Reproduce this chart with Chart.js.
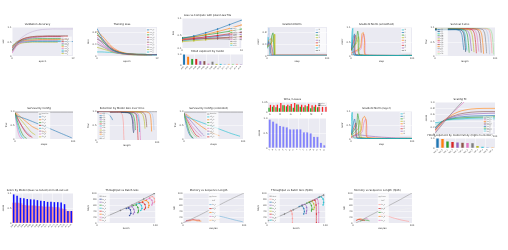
<!DOCTYPE html>
<html>
<head>
<meta charset="utf-8">
<script src="https://cdn.jsdelivr.net/npm/chart.js@4.4.0/dist/chart.umd.min.js"></script>
<style>
html, body { margin: 0; padding: 0; background: #fff; }
#page { position: relative; width: 508px; height: 250px; overflow: hidden; }
canvas { position: absolute; }
</style>
</head>
<body>
<div id="page"></div>
<script>
// ---- data (approximate) ----
const c1X = [0, 1, 2, 3, 4, 5, 6, 7, 8, 9, 10, 11, 12];
const c1Names = ['run_a', 'run_b', 'run_c', 'run_d', 'run_e', 'run_f', 'run_g', 'run_h', 'run_i', 'run_j'];
const c1Y = [
    [0.25, 0.5, 0.68, 0.8, 0.88, 0.93, 0.96, 0.97, 0.98, 0.98, 0.98, 0.98, 0.98],
    [0.2, 0.45, 0.6, 0.67, 0.7, 0.72, 0.72, 0.73, 0.73, 0.73, 0.73, 0.73, null],
    [0.3, 0.5, 0.61, 0.66, 0.69, 0.7, 0.71, 0.71, 0.71, 0.71, 0.71, 0.71, null],
    [0.15, 0.42, 0.55, 0.62, 0.66, 0.68, 0.69, 0.7, 0.7, 0.7, 0.7, null, null],
    [0.35, 0.52, 0.58, 0.61, 0.62, 0.63, 0.63, 0.63, 0.63, 0.63, 0.63, null, null],
    [0.28, 0.5, 0.55, 0.57, 0.58, 0.59, 0.6, 0.6, 0.6, 0.6, 0.6, 0.6, null],
    [0.1, 0.38, 0.5, 0.54, 0.56, 0.57, 0.57, 0.57, 0.57, 0.57, null, null, null],
    [0.22, 0.48, 0.53, 0.54, 0.55, 0.55, 0.55, 0.55, 0.55, 0.55, 0.55, null, null],
    [0.3, 0.47, 0.5, 0.51, 0.52, 0.52, 0.52, 0.52, 0.52, 0.52, 0.52, 0.52, 0.52],
    [0.18, 0.4, 0.47, 0.49, 0.5, 0.5, 0.5, 0.5, 0.5, 0.5, null, null, null]
];

const c2X = [0, 1, 2, 3, 4, 5, 6, 7, 8, 9, 10, 11, 12];
const c2Names = ['run_a', 'run_b', 'run_c', 'run_d', 'run_e', 'run_f', 'run_g', 'run_h', 'run_i', 'run_j'];
const c2Y = [
    [0.95, 0.62, 0.38, 0.22, 0.14, 0.1, 0.08, 0.07, 0.06, 0.06, 0.05, 0.05, 0.05],
    [0.85, 0.7, 0.5, 0.32, 0.2, 0.13, 0.09, 0.07, 0.06, 0.05, 0.05, 0.05, null],
    [0.8, 0.55, 0.35, 0.22, 0.15, 0.11, 0.08, 0.07, 0.06, 0.06, 0.06, null, null],
    [0.72, 0.6, 0.42, 0.27, 0.17, 0.11, 0.08, 0.06, 0.05, 0.05, 0.05, 0.05, 0.05],
    [0.65, 0.45, 0.3, 0.2, 0.13, 0.09, 0.07, 0.06, 0.05, 0.05, 0.05, null, null],
    [0.58, 0.5, 0.36, 0.24, 0.15, 0.1, 0.07, 0.06, 0.05, 0.04, 0.04, 0.04, null],
    [0.5, 0.38, 0.27, 0.18, 0.12, 0.08, 0.06, 0.05, 0.05, 0.04, null, null, null],
    [0.42, 0.33, 0.24, 0.16, 0.11, 0.08, 0.06, 0.05, 0.04, 0.04, 0.04, 0.04, 0.04],
    [0.3, 0.25, 0.2, 0.14, 0.1, 0.07, 0.05, 0.04, 0.04, 0.04, 0.04, null, null],
    [0.14, 0.14, 0.13, 0.12, 0.1, 0.08, 0.06, 0.05, 0.04, 0.04, 0.03, 0.03, 0.03]
];

const c3X = [0, 2, 4, 6, 8, 10];
const c3Names = ['m01', 'm02', 'm03', 'm04', 'm05', 'm06', 'm07', 'm08', 'm09', 'm10'];
const c3Y = [
    [0.4, 0.48, 0.58, 0.7, 0.84, 0.98],
    [0.38, 0.45, 0.53, 0.62, 0.72, 0.83],
    [0.42, 0.46, 0.51, 0.57, 0.63, 0.7],
    [0.36, 0.4, 0.45, 0.5, 0.55, 0.6],
    [0.4, 0.42, 0.45, 0.48, 0.5, 0.53],
    [0.35, 0.38, 0.4, 0.42, 0.44, 0.46],
    [0.38, 0.39, 0.4, 0.41, 0.42, 0.42],
    [0.42, 0.41, 0.4, 0.39, 0.38, 0.37],
    [0.3, 0.33, 0.36, 0.4, 0.43, 0.47],
    [0.33, 0.36, 0.41, 0.47, 0.53, 0.6]
];
const c3BarLabels = ['m01', 'm02', 'm03', 'm04', 'm05', 'm06', 'm07', 'm08', 'm09', 'm10', 'm11', 'm12', 'm13', 'm14', 'm15'];
const c3Bars = [0.95, 0.75, 0.55, 0.55, 0.35, 0.35, 0.12, 0.3, 0.1, 0.1, 0.1, 0.1, 0.1, 0.1, 0.08];

const c4Names = ['l0', 'l1', 'l2', 'l3', 'l4', 'l5', 'l6', 'l7', 'l8'];
const c4X = [
    [0, 2, 3, 4, 5, 6, 100], [0, 3, 5, 7, 100], [0, 6, 8, 10, 12, 100], [0, 9, 12, 13, 100],
    [0, 5, 8, 11, 100], [0, 4, 6, 100], [0, 3, 7, 9, 100], [0, 2, 5, 100], [0, 100]
];
const c4Y = [
    [0.3, 0.75, 0.97, 0.6, 0.1, 0.02, 0.02], [0.35, 0.5, 0.4, 0.02, 0.01], [0.3, 0.4, 0.7, 0.8, 0.02, 0.02],
    [0.3, 0.5, 0.75, 0.02, 0.02], [0.4, 0.45, 0.3, 0.02, 0.03], [0.33, 0.45, 0.03, 0.03],
    [0.3, 0.55, 0.6, 0.02, 0.02], [0.25, 0.65, 0.02, 0.02], [0.02, 0.02]
];

const c5Names = ['l0', 'l1', 'l2', 'l3', 'l4', 'l5', 'l6', 'l7', 'l8'];
const c5X = [
    [0, 2, 3, 5, 100], [0, 4, 6, 8, 100], [0, 8, 11, 13, 15, 100], [0, 10, 12, 14, 100],
    [0, 15, 18, 20, 22, 24, 100], [0, 16, 19, 21, 23, 25, 100], [0, 5, 7, 9, 100], [0, 3, 6, 100], [0, 12, 100]
];
const c5Y = [
    [0.3, 0.9, 1.0, 0.03, 0.02], [0.25, 0.7, 0.8, 0.03, 0.02], [0.2, 0.5, 0.9, 0.6, 0.03, 0.02],
    [0.2, 0.5, 0.7, 0.03, 0.02], [0.1, 0.3, 0.8, 0.85, 0.6, 0.03, 0.02], [0.1, 0.25, 0.7, 0.8, 0.5, 0.03, 0.02],
    [0.2, 0.6, 0.75, 0.03, 0.02], [0.15, 0.5, 0.03, 0.02], [0.05, 0.05, 0.02]
];

const c6Names = ['s01', 's02', 's03', 's04', 's05', 's06', 's07', 's08', 's09', 's10', 's11', 's12', 's13', 's14'];
const c6X = [
    [0, 35, 42, 45, 47, 48], [0, 38, 45, 48, 50, 51], [0, 40, 47, 50, 52, 53], [0, 44, 51, 54, 56, 57],
    [0, 48, 55, 58, 60, 61], [0, 52, 59, 62, 64, 65], [0, 56, 63, 66, 68, 69], [0, 60, 67, 70, 72, 73],
    [0, 64, 71, 74, 76, 77], [0, 68, 75, 78, 80, 81], [0, 73, 80, 83, 85, 86], [0, 78, 85, 88, 90, 91],
    [0, 82, 89, 92, 94, 95], [0, 85, 92, 95, 97, 98]
];
const c6Y = [
    [0.93, 0.95, 0.9, 0.75, 0.4, 0.22], [0.96, 0.96, 0.92, 0.8, 0.45, 0.15], [0.97, 0.97, 0.93, 0.78, 0.4, 0.2],
    [0.98, 0.97, 0.92, 0.76, 0.38, 0.12], [0.97, 0.96, 0.9, 0.72, 0.35, 0.18], [0.98, 0.97, 0.92, 0.75, 0.4, 0.14],
    [0.99, 0.98, 0.93, 0.78, 0.42, 0.1], [0.98, 0.97, 0.92, 0.74, 0.36, 0.16], [0.99, 0.98, 0.94, 0.8, 0.45, 0.12],
    [0.99, 0.98, 0.93, 0.76, 0.38, 0.08], [0.99, 0.99, 0.95, 0.8, 0.42, 0.1], [1.0, 0.99, 0.95, 0.78, 0.4, 0.06],
    [1.0, 0.99, 0.96, 0.82, 0.45, 0.1], [1.0, 1.0, 0.96, 0.8, 0.4, 0.05]
];

const c7Names = ['baseline', 'cfg_a', 'cfg_b', 'cfg_c', 'cfg_d', 'cfg_e', 'cfg_f', 'cfg_g', 'cfg_h'];
const c7X = [
    [0, 100], [2, 20, 40, 60, 80, 98], [2, 10, 20, 30, 45, 55], [0, 5, 10, 15, 20],
    [0, 6, 12, 18, 24, 30], [0, 4, 8, 12, 15], [0, 8, 16, 22, 28], [0, 3, 6, 9, 12], [0, 10, 20, 28, 35]
];
const c7Y = [
    [0.98, 0.98], [0.85, 0.72, 0.55, 0.38, 0.2, 0.04], [0.95, 0.8, 0.62, 0.45, 0.3, 0.25],
    [0.95, 0.6, 0.3, 0.1, 0.02], [0.97, 0.7, 0.45, 0.25, 0.12, 0.06], [0.9, 0.55, 0.25, 0.08, 0.02],
    [0.92, 0.6, 0.35, 0.2, 0.1], [0.9, 0.5, 0.2, 0.05, 0.02], [0.95, 0.7, 0.45, 0.25, 0.15]
];

const c8Names = ['s01', 's02', 's03', 's04', 's05', 's06', 's07', 's08', 's09', 's10', 's11', 's12', 'ref'];
const c8X = [
    [0, 38, 42, 44, 44.5, 45], [0, 18, 22, 25, 26], [0, 50, 56, 59, 60, 61], [0, 52, 58, 61, 62],
    [0, 54, 60, 63, 64], [0, 60, 65, 67, 68, 68.5], [0, 62, 67, 70, 71], [0, 64, 69, 71, 72, 72.5],
    [0, 70, 76, 79, 80], [0, 75, 80, 82, 83], [0, 82, 88, 90, 91], [0, 86, 92, 94, 95], [0, 100]
];
const c8Y = [
    [0.98, 0.97, 0.9, 0.6, 0.2, 0], [0.96, 0.92, 0.85, 0.75, 0.7], [0.98, 0.97, 0.92, 0.7, 0.4, 0.25],
    [0.98, 0.96, 0.88, 0.6, 0.3], [0.97, 0.96, 0.9, 0.65, 0.35], [0.98, 0.97, 0.9, 0.6, 0.2, 0],
    [0.98, 0.96, 0.88, 0.6, 0.28], [0.99, 0.97, 0.9, 0.6, 0.2, 0], [0.99, 0.98, 0.9, 0.65, 0.4],
    [0.99, 0.98, 0.9, 0.7, 0.45], [1.0, 0.99, 0.93, 0.7, 0.3], [1.0, 0.99, 0.92, 0.7, 0.35], [0.995, 0.995]
];

const c9Names = ['baseline', 'cfg_a', 'cfg_b', 'cfg_c', 'cfg_d', 'cfg_e', 'cfg_f', 'cfg_g', 'cfg_h'];
const c9X = [
    [0, 100], [3, 20, 40, 60, 80, 95], [3, 15, 30, 45, 60], [0, 5, 10, 15], [0, 6, 12, 18, 22],
    [0, 8, 16, 24, 30], [0, 10, 20, 28, 34], [0, 4, 8, 12, 16], [0, 7, 14, 20, 26]
];
const c9Y = [
    [0.98, 0.98], [0.82, 0.68, 0.52, 0.36, 0.2, 0.1], [0.92, 0.7, 0.45, 0.25, 0.12], [0.95, 0.55, 0.2, 0.03],
    [0.9, 0.6, 0.3, 0.12, 0.06], [0.92, 0.65, 0.4, 0.2, 0.1], [0.95, 0.7, 0.45, 0.25, 0.12],
    [0.88, 0.5, 0.22, 0.08, 0.03], [0.93, 0.62, 0.35, 0.15, 0.07]
];

const c10Labels = ['A', 'B', 'C', 'D', 'E', 'F', 'G', 'H', 'I', 'J', 'K', 'L', 'M', 'N', 'O', 'P', 'Q'];
const c10Wins = [0.45, 0.55, 0.5, 0.4, 0.7, 0.6, 0.65, 0.45, 0.8, 0.55, 0.5, 0.6, 0.4, 0.55, 0.5, 0, 0];
const c10Losses = [0.75, 0.7, 0.75, 0.95, 0.7, 0.75, 0.85, 0.95, 0.8, 0.75, 0.7, 0.85, 0.7, 0.75, 0.8, 0.55, 0.55];
const c10Scores = [0.97, 0.9, 0.83, 0.75, 0.73, 0.71, 0.64, 0.64, 0.64, 0.64, 0.54, 0.54, 0.5, 0.38, 0.38, 0.18, 0.09];

const c11Names = ['l0', 'l1', 'l2', 'l3', 'l4', 'l5', 'l6', 'l7', 'l8'];
const c11X = [
    [0, 1, 2, 3, 5, 100], [0, 4, 6, 8, 10, 100], [0, 9, 11, 13, 15, 100], [0, 12, 14, 16, 18, 100],
    [0, 16, 19, 22, 25, 27, 100], [0, 18, 21, 24, 26, 28, 100], [0, 6, 8, 11, 100],
    [0, 3, 8, 15, 30, 50, 75, 100], [0, 20, 40, 60, 80, 100]
];
const c11Y = [
    [0.2, 0.9, 1.0, 0.6, 0.04, 0.02], [0.2, 0.6, 0.75, 0.4, 0.03, 0.02], [0.15, 0.5, 0.95, 0.7, 0.04, 0.02],
    [0.12, 0.4, 0.7, 0.5, 0.03, 0.02], [0.08, 0.3, 0.75, 0.85, 0.7, 0.05, 0.02], [0.06, 0.25, 0.6, 0.75, 0.5, 0.04, 0.02],
    [0.15, 0.5, 0.6, 0.04, 0.02], [0.05, 0.1, 0.14, 0.15, 0.11, 0.07, 0.04, 0.02], [0.06, 0.06, 0.05, 0.04, 0.03, 0.02]
];

const c12X = [0, 10, 20, 40, 60, 80, 100];
const c12Names = ['fam_a', 'fam_b', 'fam_c', 'fam_d', 'fam_e', 'fam_f', 'fam_g', 'fam_h', 'fam_i'];
const c12Y = [
    [0.02, 0.25, 0.48, 0.9, 1.3, 1.7, 2.1],
    [0.05, 0.28, 0.5, 0.85, 1.2, 1.5, 1.8],
    [0.1, 0.32, 0.5, 0.7, 0.78, 0.8, 0.8],
    [0.12, 0.33, 0.48, 0.62, 0.68, 0.7, 0.7],
    [0.15, 0.35, 0.47, 0.58, 0.62, 0.64, 0.65],
    [0.18, 0.36, 0.46, 0.53, 0.56, 0.57, 0.58],
    [0.2, 0.37, 0.45, 0.5, 0.52, 0.53, 0.54],
    [0.35, 0.38, 0.44, 0.47, 0.49, 0.5, 0.5],
    [0.3, 0.36, 0.43, 0.45, 0.46, 0.46, 0.46]
];
const c12BarLabels = ['fam_a', 'fam_b', 'fam_c', 'fam_d', 'fam_e', 'fam_f', 'fam_g', 'fam_h', 'fam_i', 'fam_j', 'fam_k', 'fam_l'];
const c12Bars = [0.95, 0.9, 0.65, 0.6, 0.55, 0.52, 0.5, 0.48, 0.2, 0.12, 0.1, 0.08];

const c13Labels = ['m01', 'm02', 'm03', 'm04', 'm05', 'm06', 'm07', 'm08', 'm09', 'm10', 'm11', 'm12', 'm13', 'm14', 'm15', 'm16', 'm17', 'm18'];
const c13Tuned = [1.0, 0.95, 0.88, 0.87, 0.84, 0.83, 0.82, 0.8, 0.78, 0.77, 0.74, 0.74, 0.73, 0.73, 0.72, 0.66, 0.42, 0.42];
const c13Base = [0.7, 0.7, 0.68, 0.62, 0.6, 0.6, 0.6, 0.58, 0.58, 0.56, 0.56, 0.56, 0.54, 0.54, 0.5, 0.48, 0.4, 0.4];

const c14Names = ['ideal', 'bs_a', 'bs_b', 'bs_c', 'bs_d', 'bs_e', 'bs_f', 'bs_g', 'bs_h'];
const c14X = [
    [5, 20, 40, 60, 80, 98], [50, 54, 57, 58, 56], [55, 60, 63, 64, 62], [62, 67, 70, 71, 70],
    [68, 73, 76, 77, 75], [72, 78, 82, 83, 81], [78, 84, 88, 89, 88], [85, 90, 94, 95, 94], [90, 95, 98, 99, 98]
];
const c14Y = [
    [12, 25, 42, 60, 80, 98], [48, 50, 44, 32, 25], [52, 54, 46, 36, 30], [58, 60, 52, 40, 34],
    [63, 65, 58, 48, 42], [67, 69, 62, 50, 45], [72, 75, 68, 58, 52], [78, 82, 76, 66, 60], [85, 88, 82, 72, 68]
];

const c15Names = ['linear', 'half', 'kv_a', 'kv_b', 'kv_c', 'kv_d', 'kv_e'];
const c15X = [[0, 25, 50, 75, 100], [0, 25, 50, 75, 100], [42, 55, 70, 85, 98], [5, 12, 20, 28], [8, 15, 22, 30], [3, 10, 18, 24], [45, 52, 60]];
const c15Y = [[0, 24, 50, 76, 100], [0, 13, 26, 38, 50], [32, 25, 18, 10, 4], [8, 10, 12, 9], [6, 9, 8, 6], [4, 7, 9, 7], [12, 13, 11]];

const c16Names = ['ideal', 'bs_a', 'bs_b', 'bs_c', 'bs_d', 'bs_e', 'bs_f', 'bs_g', 'bs_h'];
const c16X = [
    [3, 15, 30, 45, 60, 75, 90, 97], [40, 42, 43, 43.5, 43.5], [55, 60, 63, 64, 63], [60, 65, 68, 68, 67],
    [68, 73, 76, 77, 76], [72, 77, 80, 81, 80], [78, 82, 84, 84.5, 84.5], [82, 86, 88, 88.5, 88.5], [88, 93, 96, 97, 96]
];
const c16Y = [
    [8, 17, 30, 44, 58, 72, 87, 93], [42, 40, 30, 15, 0], [55, 57, 48, 38, 30], [60, 62, 52, 40, 32],
    [66, 68, 58, 46, 40], [70, 72, 64, 52, 45], [75, 76, 60, 30, 0], [79, 80, 65, 35, 0], [85, 87, 80, 68, 60]
];

const c17Names = ['linear', 'half', 'kv_a', 'kv_b', 'kv_c', 'kv_d', 'kv_e'];
const c17X = [[5, 30, 55, 80, 100], [30, 50, 70, 85, 100], [45, 58, 70, 82, 95], [5, 10, 15, 20], [12, 18, 24, 28], [6, 12, 18], [18, 22, 26]];
const c17Y = [[0, 26, 52, 78, 100], [25, 32, 39, 45, 50], [30, 23, 16, 10, 5], [8, 12, 10, 8], [6, 10, 9, 7], [10, 14, 11], [12, 15, 12]];

// ---- helpers ----
const FONT = '"DejaVu Sans", sans-serif';
const palette = ['#1f77b4', '#ff7f0e', '#2ca02c', '#d62728', '#9467bd', '#8c564b', '#e377c2', '#7f7f7f',
    '#bcbd22', '#17becf', '#aec7e8', '#ffbb78', '#98df8a', '#ff9896', '#c5b0d5', '#c49c94'];
const page = document.getElementById('page');

Chart.defaults.font.family = FONT;
Chart.defaults.animation = false;

const plotBg = {
    id: 'plotBg',
    beforeDraw(chart) {
        const { ctx, chartArea: a } = chart;
        ctx.save();
        ctx.fillStyle = '#eaeaf2';
        ctx.fillRect(a.left, a.top, a.width, a.height);
        ctx.restore();
    }
};

// legend drawn inside the plot, like matplotlib's
const innerLegend = {
    id: 'innerLegend',
    afterDatasetsDraw(chart, args, o) {
        if (!o || !o.show) return;
        const { ctx, chartArea: a } = chart;
        const sets = chart.data.datasets;
        const x0 = a.left + a.width * o.x;
        const y0 = a.top + a.height * o.y;
        const h = a.height * o.h;
        const lh = (h - 1.5) / sets.length;
        ctx.save();
        ctx.fillStyle = 'rgba(255,255,255,0.7)';
        ctx.fillRect(x0, y0, o.w, h);
        ctx.font = (o.fs || 1.6) + 'px ' + FONT;
        ctx.textBaseline = 'middle';
        sets.forEach((d, i) => {
            const yy = y0 + 0.8 + lh * (i + 0.5);
            ctx.strokeStyle = d.borderColor;
            ctx.lineWidth = 0.7;
            ctx.beginPath();
            ctx.moveTo(x0 + 0.7, yy);
            ctx.lineTo(x0 + 3, yy);
            ctx.stroke();
            ctx.fillStyle = '#555';
            ctx.fillText(d.label, x0 + 3.5, yy);
        });
        ctx.restore();
    }
};

function axis(o, which) {
    const tick = { font: { size: o.fs || 2.4 }, color: '#444', padding: 0.6 };
    const s = {
        grid: { color: '#ffffff', lineWidth: 0.5, drawTicks: false },
        border: { display: false },
        title: { display: !!o.title, text: o.title || '', font: { size: 2.4 }, color: '#333', padding: 0 }
    };
    if (which === 'x') {
        s.type = o.type || 'linear';
        s.ticks = { ...tick, maxTicksLimit: o.ticks || 7, maxRotation: o.rot || 0, minRotation: o.rot || 0, autoSkip: !o.rot };
        if (o.rot) s.ticks.font = { size: 1.8 };
    } else {
        s.ticks = { ...tick, maxTicksLimit: o.ticks || 6 };
    }
    if (o.min !== undefined) s.min = o.min;
    if (o.max !== undefined) s.max = o.max;
    return s;
}

// box = plot area in page pixels; L/B = room for y / x axes
function plot(box, type, data, o) {
    const L = box.L || 10, T = o.title ? 6 : 2, R = 3, B = box.B || 7;
    const cv = document.createElement('canvas');
    cv.width = box.w + L + R;
    cv.height = box.h + T + B;
    cv.style.left = (box.x - L) + 'px';
    cv.style.top = (box.y - T) + 'px';
    page.appendChild(cv);
    const xs = axis(o.x || {}, 'x');
    const ys = axis(o.y || {}, 'y');
    xs.afterFit = s => { s.height = B; };
    ys.afterFit = s => { s.width = L; };
    const titleH = 2.6 * 1.2 + 2;
    return new Chart(cv, {
        type: type,
        data: data,
        options: {
            responsive: false,
            devicePixelRatio: 1,
            layout: { padding: { top: o.title ? T - titleH : T, right: R, left: 0, bottom: 0 } },
            scales: { x: xs, y: ys },
            plugins: {
                legend: { display: false },
                tooltip: { enabled: false },
                title: { display: !!o.title, text: o.title, font: { size: 2.6, weight: 'normal' }, color: '#222', padding: { top: 1, bottom: 1 } },
                innerLegend: o.legend || { show: false }
            },
            elements: { point: { radius: 0 }, line: { borderWidth: 0.6 } }
        },
        plugins: [plotBg, innerLegend]
    });
}

function lines(names, xs, ys, colors, extra) {
    return ys.map((y, i) => ({
        label: names[i],
        data: y.map((v, j) => ({ x: Array.isArray(xs[0]) ? xs[i][j] : xs[j], y: v })),
        borderColor: colors[i % colors.length],
        backgroundColor: colors[i % colors.length],
        borderWidth: 0.6,
        pointRadius: 0,
        tension: 0.3,
        ...(extra ? extra(i) : {})
    }));
}

// ---- row 1 ----
plot({ x: 12, y: 27, w: 61, h: 29 }, 'line',
    { datasets: lines(c1Names, c1X, c1Y, ['#c5b0d5', '#8c564b', '#d62728', '#9467bd', '#2ca02c', '#ff7f0e', '#e377c2', '#17becf', '#1f77b4', '#bcbd22']) },
    { title: 'Validation Accuracy', x: { title: 'epoch', min: 0, max: 12 }, y: { title: 'acc', min: 0, max: 1.05 },
      legend: { show: true, x: 0.8, y: 0.33, w: 11, h: 0.64 } });

plot({ x: 97, y: 27, w: 60, h: 29 }, 'line',
    { datasets: lines(c2Names, c2X, c2Y, palette) },
    { title: 'Training Loss', x: { title: 'epoch', min: 0, max: 12 }, y: { title: 'loss', min: 0, max: 1.0 },
      legend: { show: true, x: 0.82, y: 0.03, w: 10, h: 0.9 } });

plot({ x: 182, y: 18, w: 61, h: 30 }, 'line',
    { datasets: lines(c3Names, c3X, c3Y, palette, () => ({ pointRadius: 0.5, tension: 0 })) },
    { title: 'Loss vs Compute with power-law fits', x: { title: '', min: 0, max: 10 }, y: { title: 'loss', min: 0.1, max: 1.05 },
      legend: { show: true, x: 0.8, y: 0.3, w: 10, h: 0.66 } });
plot({ x: 182, y: 54, w: 61, h: 11, B: 10 }, 'bar',
    { labels: c3BarLabels, datasets: [{ label: 'exponent', data: c3Bars, backgroundColor: palette, barPercentage: 0.6 }] },
    { title: 'Fitted exponent by model', x: { type: 'category', rot: 45 }, y: { min: 0, max: 1, ticks: 3 } });

plot({ x: 267, y: 27, w: 60, h: 29 }, 'line',
    { datasets: lines(c4Names, c4X, c4Y, ['#aec7e8', '#1f77b4', '#2ca02c', '#bcbd22', '#9467bd', '#d62728', '#ff7f0e', '#17becf', '#7f7f7f'], () => ({ tension: 0 })) },
    { title: 'Gradient Norm', x: { title: 'step', min: 0, max: 100 }, y: { title: 'norm', min: 0, max: 1.0 },
      legend: { show: true, x: 0.8, y: 0.03, w: 11, h: 0.85 } });

plot({ x: 351, y: 27, w: 61, h: 29 }, 'line',
    { datasets: lines(c5Names, c5X, c5Y, ['#17becf', '#1f77b4', '#2ca02c', '#bcbd22', '#ff7f0e', '#e377c2', '#d62728', '#9467bd', '#7f7f7f'], () => ({ tension: 0.2 })) },
    { title: 'Gradient Norm (smoothed)', x: { title: 'step', min: 0, max: 100 }, y: { title: 'norm', min: 0, max: 1.05 },
      legend: { show: true, x: 0.82, y: 0.03, w: 10, h: 0.85 } });

plot({ x: 435, y: 27, w: 60, h: 29 }, 'line',
    { datasets: lines(c6Names, c6X, c6Y, ['#1f77b4', '#17375e', '#17becf', '#2ca02c', '#9467bd', '#bcbd22', '#d62728', '#e377c2', '#8c564b', '#ff7f0e', '#7f7f7f', '#aec7e8', '#ff9896', '#98df8a'], () => ({ tension: 0.2 })) },
    { title: 'Survival Curve', x: { title: 'length', min: 0, max: 100 }, y: { title: 'frac', min: 0, max: 1.05 },
      legend: { show: true, x: 0.03, y: 0.03, w: 11, h: 0.95 } });

// ---- row 2 ----
plot({ x: 15, y: 111, w: 58, h: 28 }, 'line',
    { datasets: lines(c7Names, c7X, c7Y, ['#7f7f7f', '#1f77b4', '#ff7f0e', '#2ca02c', '#d62728', '#17becf', '#9467bd', '#e377c2', '#bcbd22'], () => ({ tension: 0.2 })) },
    { title: 'Survival by Config', x: { title: 'steps', min: 0, max: 100 }, y: { title: 'frac', min: 0, max: 1.02 },
      legend: { show: true, x: 0.4, y: 0.03, w: 12, h: 0.97 } });

plot({ x: 97, y: 111, w: 60, h: 29 }, 'line',
    { datasets: lines(c8Names, c8X, c8Y, ['#ff9896', '#1f77b4', '#17375e', '#9467bd', '#2ca02c', '#d62728', '#17becf', '#e377c2', '#bcbd22', '#8c564b', '#ff7f0e', '#aec7e8', '#7f7f7f'], () => ({ tension: 0.2 })) },
    { title: 'Retention by Model Size over time', x: { title: 'length', min: 0, max: 100 }, y: { title: 'frac', min: 0, max: 1.02 },
      legend: { show: true, x: 0.03, y: 0.03, w: 11, h: 0.97 } });

plot({ x: 184, y: 111, w: 59, h: 28 }, 'line',
    { datasets: lines(c9Names, c9X, c9Y, ['#7f7f7f', '#17becf', '#ff7f0e', '#2ca02c', '#98df8a', '#e377c2', '#9467bd', '#1f77b4', '#d62728'], () => ({ tension: 0.2 })) },
    { title: 'Survival by Config (extended)', x: { title: 'steps', min: 0, max: 100 }, y: { title: 'frac', min: 0, max: 1.02 },
      legend: { show: true, x: 0.38, y: 0.03, w: 12, h: 0.97 } });

plot({ x: 268, y: 102, w: 59, h: 10, B: 3 }, 'bar',
    { labels: c10Labels, datasets: [
        { label: 'wins', data: c10Wins, backgroundColor: '#22aa22', barPercentage: 0.9, categoryPercentage: 0.8 },
        { label: 'losses', data: c10Losses, backgroundColor: '#ff2020', barPercentage: 0.9, categoryPercentage: 0.8 }] },
    { title: 'Wins / Losses', x: { type: 'category', ticks: 0 }, y: { min: 0, max: 1.05, ticks: 3 },
      legend: { show: true, x: 0.84, y: 0.03, w: 9, h: 0.45 } });
plot({ x: 268, y: 118, w: 58, h: 30, B: 9 }, 'bar',
    { labels: c10Labels, datasets: [{ label: 'score', data: c10Scores, backgroundColor: 'rgba(110,110,255,0.85)', borderColor: '#5555ee', borderWidth: 0.3, barPercentage: 0.8 }] },
    { x: { type: 'category', rot: 45 }, y: { title: 'score', min: 0, max: 1.02 } });

plot({ x: 351, y: 111, w: 61, h: 28 }, 'line',
    { datasets: lines(c11Names, c11X, c11Y, ['#17becf', '#1f77b4', '#2ca02c', '#bcbd22', '#ff7f0e', '#e377c2', '#d62728', '#9467bd', '#ffbb78'], () => ({ tension: 0.2 })) },
    { title: 'Gradient Norm (layer)', x: { title: 'step', min: 0, max: 100 }, y: { title: 'norm', min: 0, max: 1.05 },
      legend: { show: true, x: 0.8, y: 0.03, w: 11, h: 0.85 } });

plot({ x: 435, y: 102, w: 60, h: 32 }, 'line',
    { datasets: lines(c12Names, c12X, c12Y, ['#7f7f7f', '#e377c2', '#ff7f0e', '#8c564b', '#9467bd', '#1f77b4', '#2ca02c', '#17becf', '#9edae5']) },
    { title: 'Scaling fit', x: { title: '', min: 0, max: 100 }, y: { title: 'score', min: 0, max: 1.0 },
      legend: { show: true, x: 0.8, y: 0.45, w: 10, h: 0.52 } });
plot({ x: 435, y: 138, w: 60, h: 10, B: 9 }, 'bar',
    { labels: c12BarLabels, datasets: [{ label: 'exponent', data: c12Bars, backgroundColor: palette.concat(['#17becf', '#9edae5']), barPercentage: 0.6 }] },
    { title: 'Fitted exponent by model family (higher is better)', x: { type: 'category', rot: 45 }, y: { min: 0, max: 1, ticks: 3 } });

// ---- row 3 ----
plot({ x: 12, y: 193, w: 61, h: 30, B: 8 }, 'bar',
    { labels: c13Labels, datasets: [
        { label: 'tuned', data: c13Tuned, backgroundColor: '#1010ff', barPercentage: 0.5, categoryPercentage: 0.9, grouped: false, order: 1 },
        { label: 'base', data: c13Base, backgroundColor: 'rgba(255,90,90,0.45)', barPercentage: 1.0, categoryPercentage: 1.0, grouped: false, order: 2 }] },
    { title: 'Score by Model (base vs tuned) on held-out set', x: { type: 'category', rot: 45 }, y: { title: 'score', min: 0, max: 1.05 } });

plot({ x: 97, y: 193, w: 60, h: 30 }, 'line',
    { datasets: lines(c14Names, c14X, c14Y, ['#7f7f7f', '#1f3a93', '#9467bd', '#2ca02c', '#17becf', '#d62728', '#ff7f0e', '#e377c2', '#ff9896'], i => (i === 0 ? { pointRadius: 0.5, tension: 0 } : { pointRadius: 0.4, tension: 0.4 })) },
    { title: 'Throughput vs Batch Size', x: { title: 'batch', min: 0, max: 100 }, y: { title: 'tok/s', min: 0, max: 100 },
      legend: { show: true, x: 0.03, y: 0.03, w: 11, h: 0.95 } });

plot({ x: 183, y: 193, w: 61, h: 30 }, 'line',
    { datasets: lines(c15Names, c15X, c15Y, ['#9a9a9a', '#f0f0f0', '#6baed6', '#d62728', '#ff7f0e', '#e377c2', '#ffbb78'], () => ({ tension: 0.2 })) },
    { title: 'Memory vs Sequence Length', x: { title: 'seq len', min: 0, max: 100 }, y: { title: 'GB', min: 0, max: 100 },
      legend: { show: true, x: 0.42, y: 0.03, w: 11, h: 0.97 } });

plot({ x: 267, y: 193, w: 60, h: 30 }, 'line',
    { datasets: lines(c16Names, c16X, c16Y, ['#7f7f7f', '#ff9896', '#1f77b4', '#9467bd', '#2ca02c', '#bcbd22', '#d62728', '#e377c2', '#17becf'], i => (i === 0 ? { pointRadius: 0.5, tension: 0 } : { pointRadius: 0.4, tension: 0.4 })) },
    { title: 'Throughput vs Batch Size (fp16)', x: { title: 'batch', min: 0, max: 100 }, y: { title: 'tok/s', min: 0, max: 100 },
      legend: { show: true, x: 0.03, y: 0.03, w: 11, h: 0.95 } });

plot({ x: 353, y: 193, w: 59, h: 30 }, 'line',
    { datasets: lines(c17Names, c17X, c17Y, ['#9a9a9a', '#f0f0f0', '#ff9896', '#d62728', '#2ca02c', '#ff7f0e', '#e377c2'], () => ({ tension: 0.2 })) },
    { title: 'Memory vs Sequence Length (fp16)', x: { title: 'seq len', min: 0, max: 100 }, y: { title: 'GB', min: 0, max: 100 },
      legend: { show: true, x: 0.42, y: 0.03, w: 11, h: 0.97 } });
</script>
</body>
</html>
